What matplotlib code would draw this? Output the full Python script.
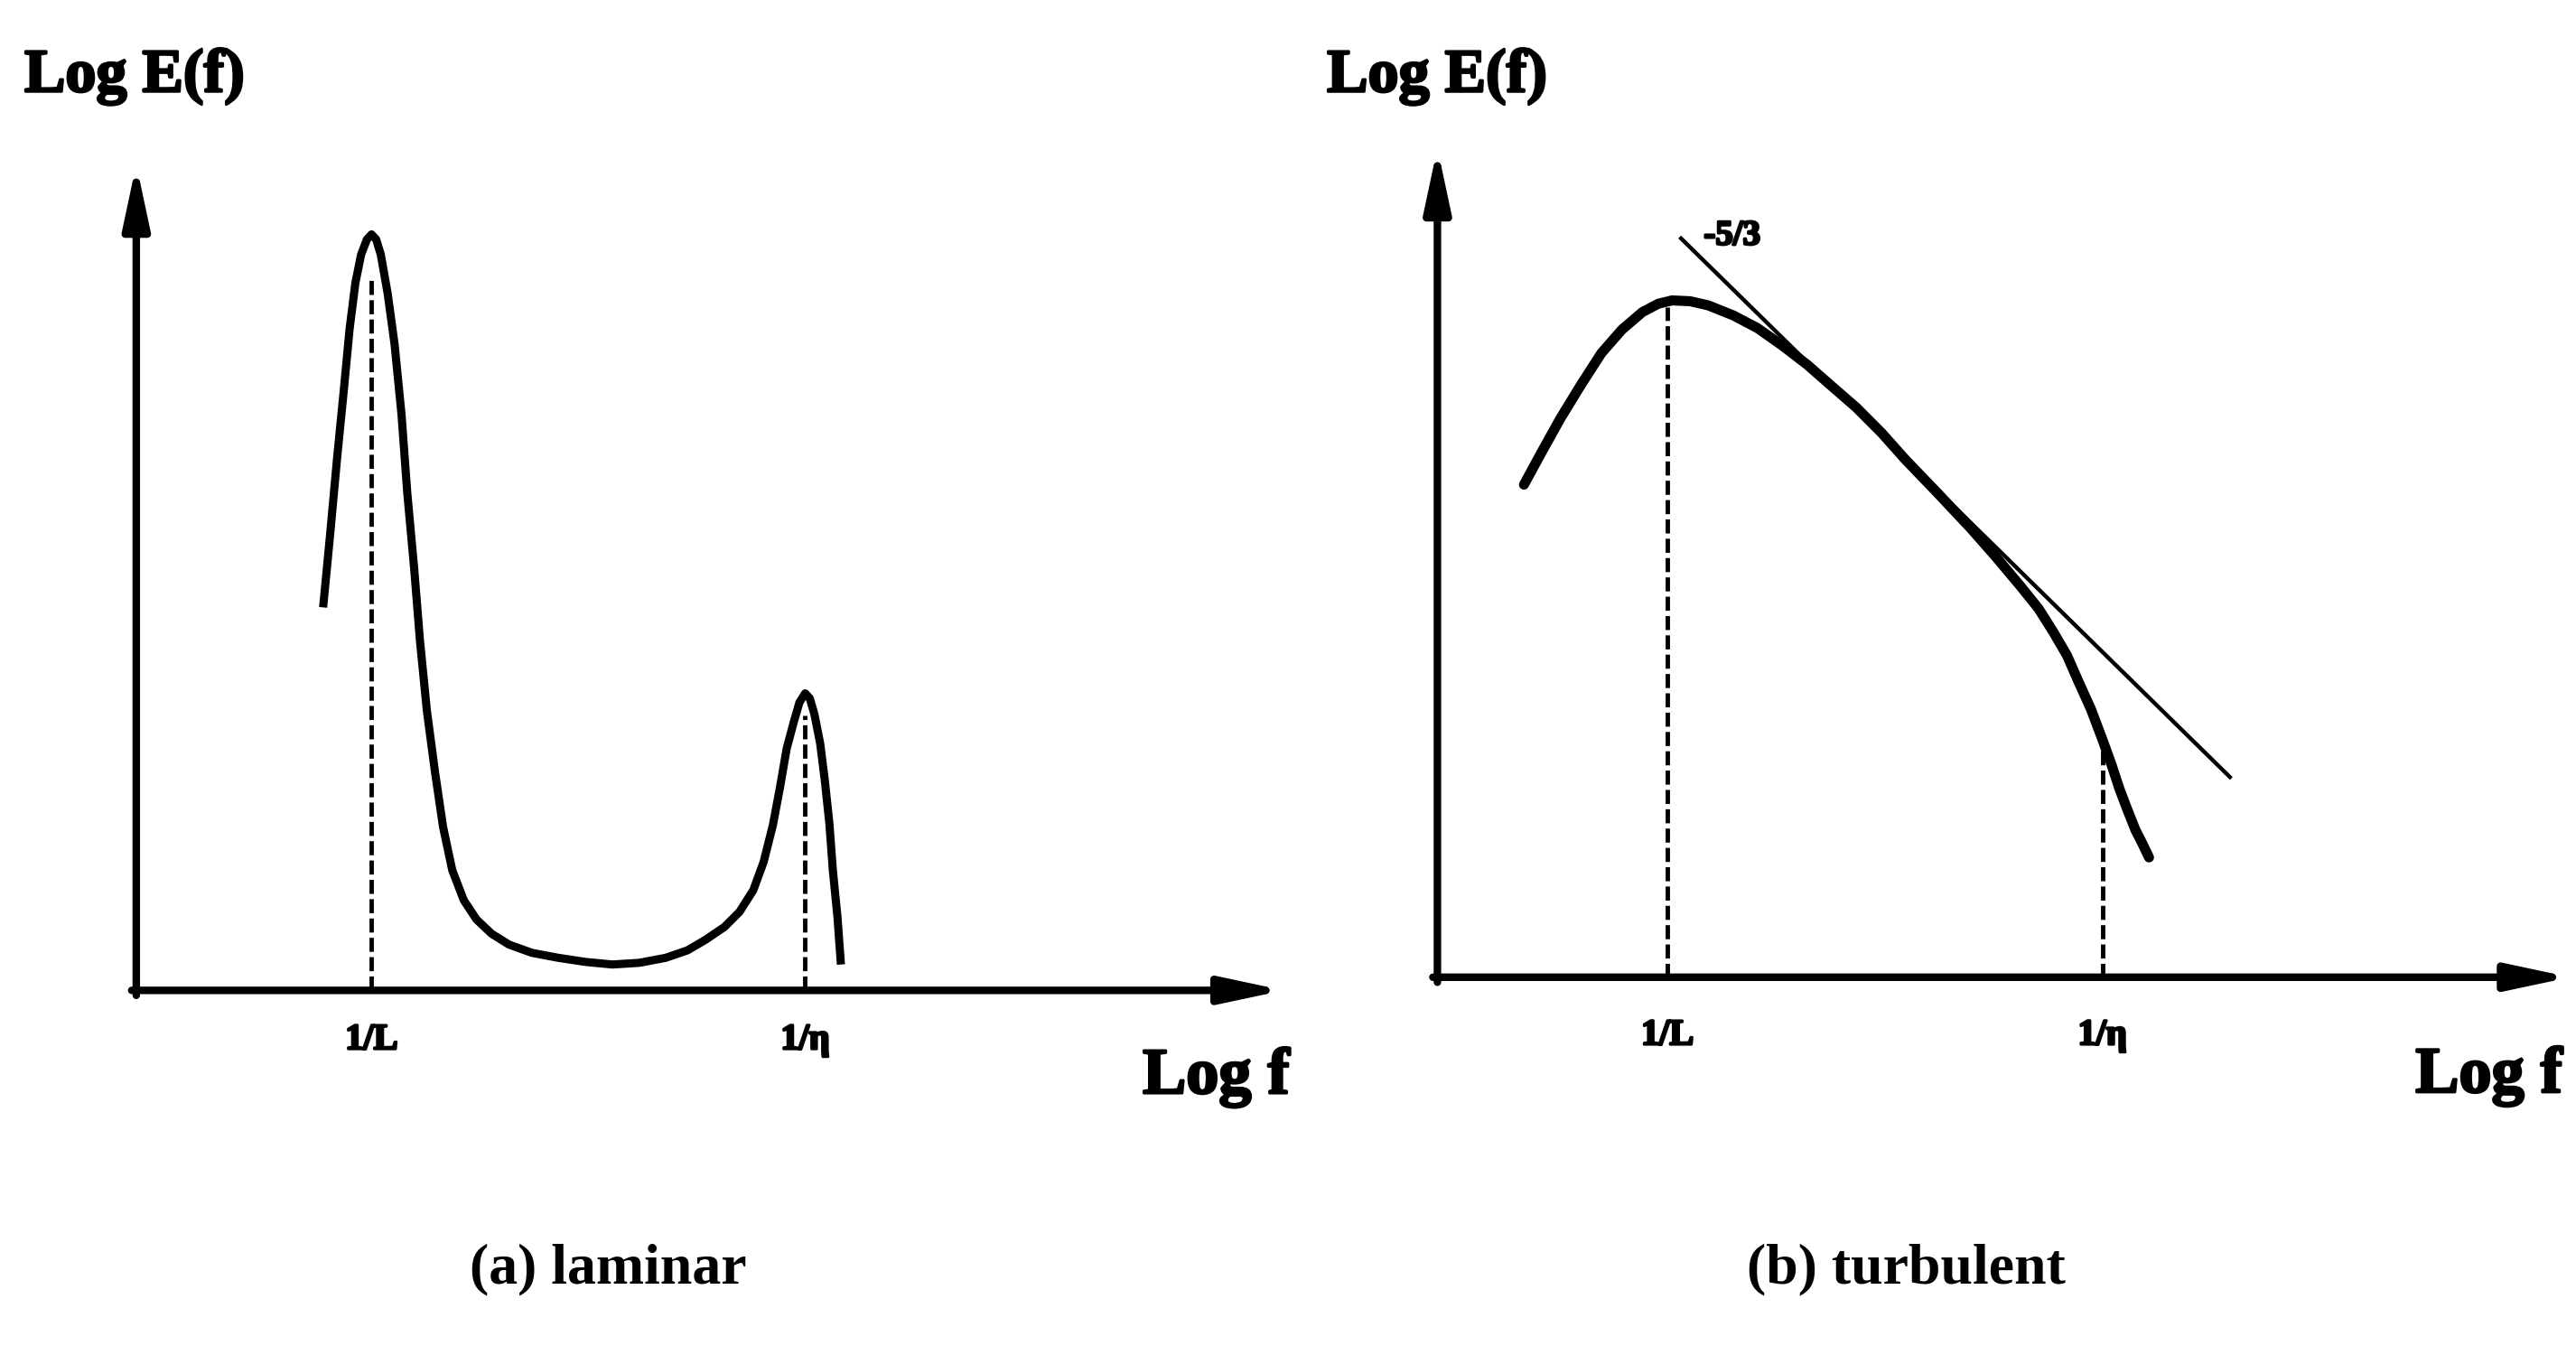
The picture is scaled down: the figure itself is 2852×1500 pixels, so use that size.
import matplotlib
matplotlib.use("Agg")
import matplotlib.pyplot as plt
import matplotlib.patheffects as pe

plt.rcParams["font.family"] = ["Liberation Serif", "DejaVu Serif"]

# laminar spectrum, axis units (0..1 along each drawn axis)
lam_x = [0.162, 0.168, 0.174, 0.180, 0.185, 0.190, 0.195, 0.200, 0.204, 0.208,
         0.212, 0.218, 0.224, 0.230, 0.235, 0.241, 0.246, 0.252, 0.259, 0.266,
         0.274, 0.284, 0.295, 0.308, 0.323, 0.343, 0.366, 0.390, 0.413, 0.436,
         0.459, 0.478, 0.494, 0.510, 0.523, 0.535, 0.544, 0.552, 0.558, 0.564,
         0.570, 0.575, 0.580, 0.584, 0.588, 0.593, 0.597, 0.601, 0.604, 0.608, 0.611]
lam_y = [0.459, 0.545, 0.636, 0.720, 0.793, 0.848, 0.882, 0.900, 0.906, 0.900,
         0.882, 0.835, 0.774, 0.690, 0.596, 0.505, 0.419, 0.335, 0.262, 0.196,
         0.144, 0.108, 0.085, 0.068, 0.055, 0.045, 0.039, 0.034, 0.031, 0.033,
         0.039, 0.048, 0.061, 0.076, 0.094, 0.120, 0.154, 0.198, 0.242, 0.290,
         0.321, 0.345, 0.356, 0.350, 0.331, 0.296, 0.252, 0.200, 0.144, 0.088, 0.031]

# turbulent spectrum
tur_x = [0.076, 0.092, 0.108, 0.126, 0.144, 0.162, 0.180, 0.194, 0.206, 0.222,
         0.238, 0.260, 0.281, 0.303, 0.325, 0.346, 0.368, 0.390, 0.411, 0.440,
         0.469, 0.491, 0.512, 0.528, 0.541, 0.553, 0.563, 0.574, 0.584, 0.592,
         0.599, 0.606, 0.613, 0.619, 0.625]
tur_y = [0.588, 0.628, 0.667, 0.707, 0.745, 0.773, 0.794, 0.804, 0.808, 0.807,
         0.802, 0.790, 0.775, 0.754, 0.731, 0.706, 0.680, 0.650, 0.618, 0.577,
         0.535, 0.501, 0.467, 0.440, 0.412, 0.384, 0.353, 0.320, 0.284, 0.254,
         0.225, 0.200, 0.176, 0.160, 0.143]

# -5/3 slope line end points
slope_x = [0.214, 0.696]
slope_y = [0.882, 0.239]

# reference frequencies: (x, top of dashed line)
lam_marks = [(0.204, 0.852), (0.580, 0.330)]
tur_marks = [(0.202, 0.800), (0.584, 0.284)]
tick_labels = ["1/L", "1/\u03b7"]

heavy = [pe.withStroke(linewidth=2.0, foreground="black")]

fig = plt.figure(figsize=(28.52, 15), dpi=100)
ax_a = fig.add_axes([0.0529, 0.2691, 0.4477, 0.6158])
ax_b = fig.add_axes([0.5580, 0.2788, 0.4420, 0.6182])


def setup(ax, ylab_y, xlab_x, xlab_y):
    ax.set_xlim(0, 1)
    ax.set_ylim(0, 1)
    ax.axis("off")
    arrow = dict(arrowstyle="-|>,head_length=0.75,head_width=0.16", lw=6,
                 color="black", mutation_scale=55, shrinkA=0, shrinkB=0)
    ax.annotate("", xy=(0.995, 0), xytext=(-0.004, 0), arrowprops=arrow,
                annotation_clip=False)
    ax.annotate("", xy=(0, 0.99), xytext=(0, -0.006), arrowprops=arrow,
                annotation_clip=False)
    ax.text(-0.097, ylab_y, "Log E(f)", fontsize=49, fontweight="bold",
            ha="left", va="center", path_effects=heavy)
    ax.text(xlab_x, xlab_y, "Log f", fontsize=52, fontweight="bold",
            ha="right", va="center", path_effects=heavy)


def marks(ax, pts, lab_y):
    for (x, top), lab in zip(pts, tick_labels):
        ax.plot([x, x], [0, top], color="black", lw=3.5, ls=(0, (3.2, 1.2)))
        ax.text(x, lab_y, lab, fontsize=29, fontweight="bold",
                ha="center", va="center", path_effects=heavy)


setup(ax_a, 1.095, 1.0, -0.104)
marks(ax_a, lam_marks, -0.060)
ax_a.plot(lam_x, lam_y, color="black", lw=6.5, solid_capstyle="butt",
          solid_joinstyle="round")

setup(ax_b, 1.075, 0.988, -0.118)
marks(ax_b, tur_marks, -0.070)
ax_b.plot(slope_x, slope_y, color="black", lw=3.2)
ax_b.plot(tur_x, tur_y, color="black", lw=8, solid_capstyle="round",
          solid_joinstyle="round")
ax_b.text(0.234, 0.885, "-5/3", fontsize=28, fontweight="bold",
          ha="left", va="center", path_effects=heavy)

fig.text(0.236, 0.063, "(a) laminar", fontsize=46, fontweight="bold",
         ha="center", va="center")
fig.text(0.740, 0.063, "(b) turbulent", fontsize=46, fontweight="bold",
         ha="center", va="center")

fig.savefig("out.png", dpi=100)
